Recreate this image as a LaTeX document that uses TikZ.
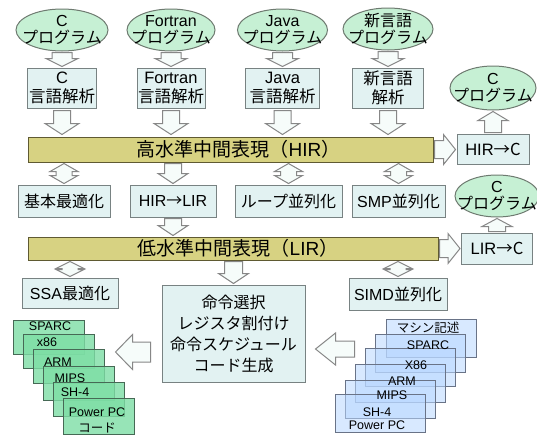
\documentclass[tikz,border=0pt]{standalone}
\usepackage{fontspec}
\setmainfont{Liberation Sans}
\newfontfamily\jp{Noto Sans CJK JP}
\usetikzlibrary{calc,shapes.geometric}
\definecolor{ellfill}{RGB}{198,240,212}
\definecolor{ellline}{RGB}{110,122,112}
\definecolor{boxfill}{RGB}{226,242,242}
\definecolor{boxline}{RGB}{120,130,130}
\definecolor{barfill}{RGB}{215,210,130}
\definecolor{barline}{RGB}{95,90,50}
\definecolor{arrfill}{RGB}{246,252,250}
\definecolor{arrline}{RGB}{135,135,135}
\definecolor{grfill}{RGB}{125,222,165}
\definecolor{grline}{RGB}{70,105,85}
\definecolor{blfill}{RGB}{185,215,255}
\definecolor{blline}{RGB}{105,115,135}
\def\fagap{1pt}\def\fashaft{9pt}\def\fahead{15pt}\def\falen{10pt}
\tikzset{
  fagap/.code={\def\fagap{#1}},
  fashaft/.code={\def\fashaft{#1}},
  fahead/.code={\def\fahead{#1}},
  falen/.code={\def\falen{#1}},
  arrowlook/.style={draw=arrline, fill=arrfill, line width=1pt, line join=miter},
  blockarrow/.style={arrowlook, to path={
      ($(\tikztostart)!\fagap!(\tikztotarget)$) coordinate (fas)
      ($(\tikztotarget)!\fagap!(\tikztostart)$) coordinate (fat)
      ($(fat)!\falen!(fas)$) coordinate (fah)
      ($(fas)!\fashaft!90:(fat)$) -- ($(fah)!\fashaft!-90:(fas)$) -- ($(fah)!\fahead!-90:(fas)$) -- (fat)
      -- ($(fah)!\fahead!90:(fas)$) -- ($(fah)!\fashaft!90:(fas)$) -- ($(fas)!\fashaft!-90:(fat)$) -- cycle}},
  dblarrow/.style={arrowlook, to path={
      ($(\tikztostart)!\fagap!(\tikztotarget)$) coordinate (fas)
      ($(\tikztotarget)!\fagap!(\tikztostart)$) coordinate (fat)
      ($(fat)!\falen!(fas)$) coordinate (fah)
      ($(fas)!\falen!(fat)$) coordinate (fag)
      (fas) -- ($(fag)!\fahead!90:(fat)$) -- ($(fag)!\fashaft!90:(fat)$) -- ($(fah)!\fashaft!-90:(fas)$)
      -- ($(fah)!\fahead!-90:(fas)$) -- (fat) -- ($(fah)!\fahead!90:(fas)$) -- ($(fah)!\fashaft!90:(fas)$)
      -- ($(fag)!\fashaft!-90:(fat)$) -- ($(fag)!\fahead!-90:(fat)$) -- cycle}},
  ell/.style={ellipse, draw=ellline, fill=ellfill, line width=1pt, inner sep=0pt, minimum height=42pt},
  elltext/.style={align=center, inner sep=0pt, font=\fontsize{16}{17}\selectfont},
  box/.style={rectangle, draw=boxline, fill=boxfill, line width=1pt, inner sep=0pt, align=center,
    font=\fontsize{16.5}{19}\selectfont},
  bar/.style={rectangle, draw=barline, fill=barfill, line width=1pt, inner sep=0pt},
  bartext/.style={inner sep=0pt, font=\fontsize{19}{22}\selectfont},
  gbox/.style={rectangle, draw=grline, fill=grfill, fill opacity=0.8, line width=1pt, minimum width=71pt, minimum height=34pt, inner sep=0pt},
  bbox/.style={rectangle, draw=blline, fill=blfill, fill opacity=0.55, line width=1pt, minimum width=90pt, minimum height=38pt, inner sep=0pt},
  stacklabel/.style={inner sep=0pt, font=\fontsize{12.5}{14}\selectfont},
}
\begin{document}
\begin{tikzpicture}[x=1pt,y=-1pt]
\fill[white] (0,0) rectangle (537,434);
\useasboundingbox (0,0) rectangle (537,434);

% source programs
\node[ell, minimum width=92pt, label={[elltext]center:{C\\{\jp プログラム}}}] (e1) at (62,30) {};
\node[ell, minimum width=88pt, label={[elltext]center:{Fortran\\{\jp プログラム}}}] (e2) at (171,30) {};
\node[ell, minimum width=90pt, label={[elltext]center:{Java\\{\jp プログラム}}}] (e3) at (282.5,30) {};
\node[ell, minimum width=90pt, label={[elltext]center:{{\jp 新言語}\\{\jp プログラム}}}] (e4) at (388,29) {};

% front ends
\node[box, minimum width=69pt, minimum height=40pt] (b1) at (62,88) {C\\{\jp 言語解析}};
\node[box, minimum width=68pt, minimum height=40pt] (b2) at (171,88) {Fortran\\{\jp 言語解析}};
\node[box, minimum width=74pt, minimum height=40pt] (b3) at (282.5,88) {Java\\{\jp 言語解析}};
\node[box, minimum width=71pt, minimum height=40pt] (b4) at (388,88) {{\jp 新言語}\\{\jp 解析}};

% HIR
\node[bar, minimum width=405pt, minimum height=25pt,
  label={[bartext, xshift=8pt]center:{{\jp 高水準中間表現（}HIR{\jp ）}}}] (hir) at (230.5,149.5) {};
\node[box, minimum width=72pt, minimum height=30pt] (hirc) at (493,149) {HIR{\jp →C}};
\node[ell, minimum width=86pt, minimum height=44pt, label={[elltext]center:{C\\{\jp プログラム}}}] (ce1) at (493,88) {};

% row 2
\node[box, font=\fontsize{16}{19}\selectfont, minimum width=92pt, minimum height=32pt] (r1) at (64,201) {{\jp 基本最適化}};
\node[box, font=\fontsize{16}{19}\selectfont, minimum width=86pt, minimum height=32pt] (r2) at (173,201) {HIR{\jp →}LIR};
\node[box, font=\fontsize{16}{19}\selectfont, minimum width=107pt, minimum height=32pt] (r3) at (288.5,201) {{\jp ループ並列化}};
\node[box, font=\fontsize{16}{19}\selectfont, minimum width=93pt, minimum height=32pt] (r4) at (398.5,201) {SMP{\jp 並列化}};
\node[ell, minimum width=84pt, minimum height=42pt, label={[elltext]center:{C\\{\jp プログラム}}}] (ce2) at (497,196) {};

% LIR
\node[bar, minimum width=410pt, minimum height=23pt,
  label={[bartext, xshift=5pt]center:{{\jp 低水準中間表現（}LIR{\jp ）}}}] (lir) at (233,248.5) {};
\node[box, minimum width=71pt, minimum height=31pt] (lirc) at (497,248.5) {LIR{\jp →C}};

% row 3
\node[box, font=\fontsize{16}{19}\selectfont, minimum width=96pt, minimum height=30pt] (ssa) at (70,293) {SSA{\jp 最適化}};
\node[box, font=\fontsize{16}{19}\selectfont, minimum width=98pt, minimum height=32pt] (simd) at (398,294) {SIMD{\jp 並列化}};
\node[box, font=\jp\fontsize{16}{21}\selectfont, minimum width=143pt, minimum height=97pt] (cmd) at (233.5,333.5)
  {命令選択\\レジスタ割付け\\命令スケジュール\\コード生成};

% green code stack
\node[gbox] (g1) at (48.5,337) {};
\node[gbox] (g2) at (58.5,351) {};
\node[gbox] (g3) at (68.5,366) {};
\node[gbox] (g4) at (78.5,383) {};
\node[gbox] (g5) at (88.5,399) {};
\node[gbox, minimum height=36pt] (g6) at (98.5,416) {};
\node[stacklabel] (gl1) at (50,326) {SPARC};
\node[stacklabel] (gl2) at (47,342) {x86};
\node[stacklabel] (gl3) at (58,362) {ARM};
\node[stacklabel] (gl4) at (70,378) {MIPS};
\node[stacklabel] (gl5) at (75,392) {SH-4};
\node[stacklabel] (gl6) at (97,412) {Power PC};
\node[stacklabel] (gl7) at (97,428) {\jp コード};

% blue machine description stack
\node[bbox] (bA) at (431,338) {};
\node[bbox] (bB) at (420,353) {};
\node[bbox] (bC) at (410,367) {};
\node[bbox] (bD) at (400,383) {};
\node[bbox] (bE) at (390,399) {};
\node[bbox] (bF) at (380,413) {};
\node[stacklabel] (bl1) at (428,328) {\jp マシン記述};
\node[stacklabel] (bl2) at (428,345) {SPARC};
\node[stacklabel] (bl3) at (416,365) {X86};
\node[stacklabel] (bl4) at (402,381) {ARM};
\node[stacklabel] (bl5) at (392,395) {MIPS};
\node[stacklabel] (bl6) at (377,412) {SH-4};
\node[stacklabel] (bl7) at (377,425.5) {Power PC};

% arrows: programs -> front ends
\foreach \a/\b in {e1/b1,e2/b2,e3/b3,e4/b4}
  \draw[blockarrow, fashaft=10pt, fahead=16pt, falen=8pt] (\a.south) to (\a.south |- \b.north);
% front ends -> HIR
\foreach \b in {b1,b2,b3,b4}
  \draw[blockarrow, fagap=2pt, fashaft=8.5pt, fahead=17pt, falen=11pt] (\b.south) to (\b.south |- hir.north);
% HIR <-> optimisers
\foreach \r in {r1,r3,r4}
  \draw[dblarrow, fashaft=8pt, fahead=14pt, falen=8pt] (\r.north |- hir.south) to (\r.north);
\draw[blockarrow, fashaft=8.5pt, fahead=15pt, falen=10pt] (r2.north |- hir.south) to (r2.north);
\draw[blockarrow, fashaft=8.5pt, fahead=15pt, falen=10pt] (r2.south) to (r2.south |- lir.north);
% HIR -> C
\draw[blockarrow, fashaft=9pt, fahead=15pt, falen=12pt] (hir.east) to (hir.east -| hirc.west);
\draw[blockarrow, fashaft=8.5pt, fahead=15pt, falen=9pt] (hirc.north) to (hirc.north |- ce1.south);
% LIR -> C
\draw[blockarrow, fashaft=9pt, fahead=15pt, falen=12pt] (lir.east) to (lir.east -| lirc.west);
\draw[blockarrow, fashaft=8.5pt, fahead=15pt, falen=8pt] (lirc.north) to (lirc.north |- ce2.south);
% LIR <-> optimisers
\foreach \r in {ssa,simd}
  \draw[dblarrow, fashaft=8pt, fahead=14pt, falen=7pt] (\r.north |- lir.south) to (\r.north);
\draw[blockarrow, fashaft=9pt, fahead=15pt, falen=10pt] (cmd.north |- lir.south) to (cmd.north);
% code generation
\draw[blockarrow, fagap=11pt, fashaft=10pt, fahead=17.5pt, falen=17pt] (cmd.west |- 0,352) to (g3.east |- 0,352);
\draw[blockarrow, fagap=10pt, fashaft=8pt, fahead=16pt, falen=20pt] (bC.west |- 0,349) to (cmd.east |- 0,349);
\end{tikzpicture}
\end{document}
